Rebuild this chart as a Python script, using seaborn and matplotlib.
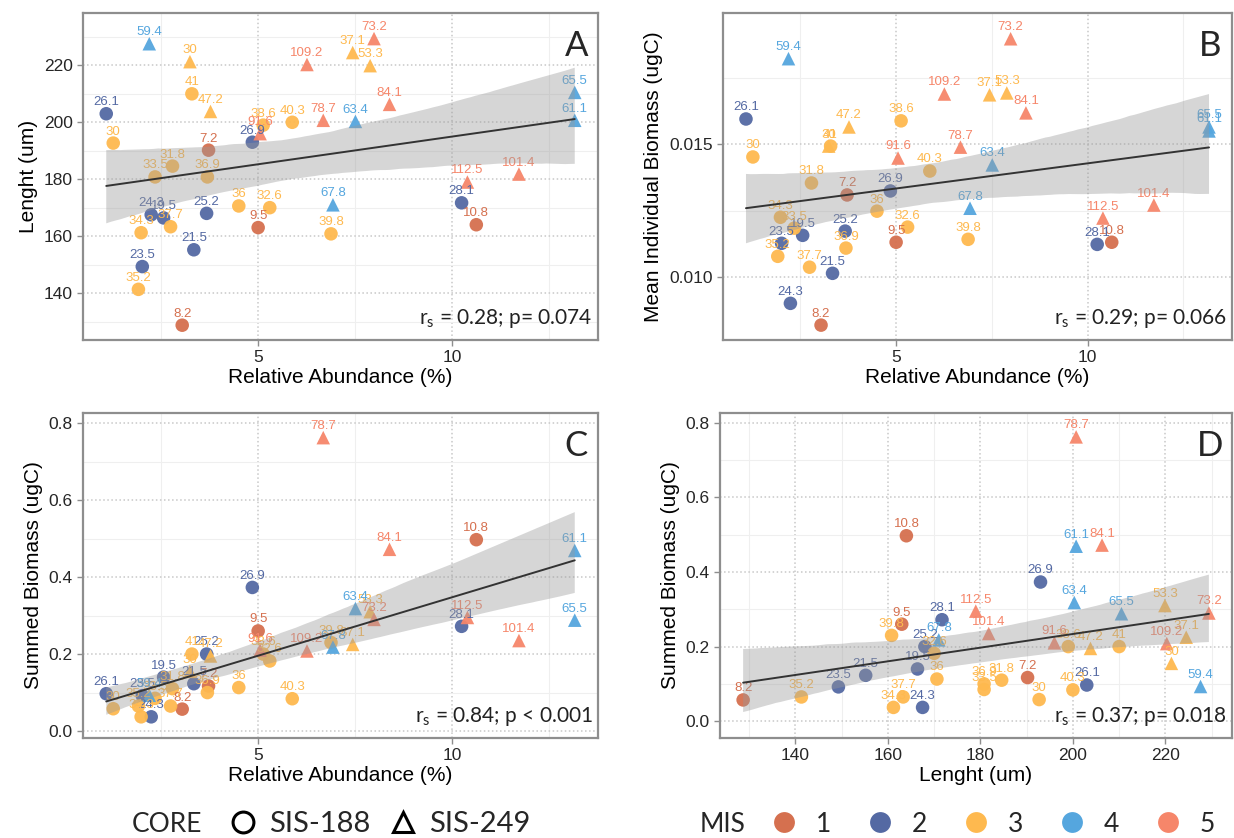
import numpy as np
import pandas as pd
import matplotlib
matplotlib.use("Agg")
import matplotlib.pyplot as plt
import seaborn as sns
from matplotlib.lines import Line2D
from matplotlib.ticker import MultipleLocator, FormatStrFormatter

# sample labels (age), core and MIS stage
labels = ['7.2', '8.2', '9.5', '10.8', '19.5', '21.5', '23.5', '24.3', '25.2', '26.1',
          '26.9', '28.1', '30', '31.8', '32.6', '33.5', '34.3', '35.2', '36', '36.9',
          '37.7', '38.6', '39.8', '40.3', '41',
          '30', '37.1', '47.2', '53.3', '59.4', '61.1', '63.4', '65.5', '67.8', '73.2',
          '78.7', '84.1', '91.6', '101.4', '109.2', '112.5']
core = ['SIS-188'] * 25 + ['SIS-249'] * 16
mis = ['1', '1', '1', '1', '2', '2', '2', '2', '2', '2',
       '2', '2', '3', '3', '3', '3', '3', '3', '3', '3',
       '3', '3', '3', '3', '3',
       '3', '3', '3', '3', '4', '4', '4', '4', '4', '5',
       '5', '5', '5', '5', '5', '5']

rel_abund = [3.72, 3.04, 5.0, 10.63, 2.56, 3.34, 2.01, 2.24, 3.67, 1.08,
             4.85, 10.25, 1.26, 2.79, 5.3, 2.34, 1.98, 1.91, 4.5, 3.69,
             2.74, 5.13, 6.88, 5.88, 3.29,
             3.24, 7.44, 3.77, 7.89, 2.19, 13.17, 7.51, 13.17, 6.93, 7.99,
             6.68, 8.39, 5.05, 11.73, 6.26, 10.4]
length = [190.2, 128.7, 163, 164, 166.4, 155.2, 149.3, 167.5, 168, 203,
          193, 171.7, 192.7, 184.6, 170, 180.8, 161.2, 141.3, 170.6, 180.8,
          163.3, 199, 160.8, 200, 210,
          221.3, 224.5, 203.8, 219.9, 227.6, 200.7, 200.3, 210.5, 171, 229.4,
          200.7, 206.3, 196, 181.8, 220.3, 179]
mean_biomass = [0.0131, 0.0082, 0.01132, 0.01132, 0.01158, 0.01015, 0.01128, 0.00902, 0.01174, 0.01596,
                0.01325, 0.01124, 0.01453, 0.01355, 0.01189, 0.01185, 0.01226, 0.01079, 0.01249, 0.0111,
                0.01038, 0.01589, 0.01143, 0.0140, 0.01494,
                0.01494, 0.01687, 0.01566, 0.01694, 0.01823, 0.01551, 0.01423, 0.01566, 0.0126, 0.01898,
                0.0149, 0.01619, 0.01449, 0.01272, 0.0169, 0.01223]
summed_biomass = [0.117, 0.057, 0.26, 0.497, 0.14, 0.123, 0.092, 0.037, 0.2, 0.097,
                  0.373, 0.272, 0.058, 0.11, 0.182, 0.085, 0.037, 0.065, 0.113, 0.1,
                  0.065, 0.2, 0.23, 0.084, 0.2,
                  0.155, 0.225, 0.195, 0.31, 0.093, 0.469, 0.318, 0.288, 0.218, 0.29,
                  0.762, 0.472, 0.21, 0.235, 0.208, 0.295]

stats = ['0.28; p= 0.074', '0.29; p= 0.066', '0.84; p < 0.001', '0.37; p= 0.018']

df = pd.DataFrame({'Label': labels, 'Core': core, 'MIS': mis, 'RA': rel_abund,
                   'Length': length, 'MeanBiomass': mean_biomass, 'SummedBiomass': summed_biomass})

mis_colors = {'1': '#D5704F', '2': '#5469A3', '3': '#FEB94F', '4': '#55A6DE', '5': '#F6866A'}
core_markers = {'SIS-188': 'o', 'SIS-249': '^'}

sns.set_style("white")
plt.rcParams['font.family'] = ['Liberation Sans', 'DejaVu Sans']
plt.rcParams['mathtext.default'] = 'regular'

fig = plt.figure(figsize=(12.34, 8.38), dpi=100)
W, H = 1234, 838


def box(l, t, r, b):
    return [l / W, 1 - b / H, (r - l) / W, (b - t) / H]


axA = fig.add_axes(box(83, 13, 598, 340))
axB = fig.add_axes(box(723, 13, 1232, 340))
axC = fig.add_axes(box(83, 413, 598, 738))
axD = fig.add_axes(box(720, 413, 1232, 738))


def panel(ax, xcol, ycol, letter, stat, xlabel, ylabel):
    sns.scatterplot(data=df, x=xcol, y=ycol, hue='MIS', style='Core', palette=mis_colors,
                    markers=core_markers, s=95, linewidth=0, alpha=0.95, legend=False,
                    ax=ax, zorder=2)
    for _, r in df.iterrows():
        ax.annotate(r['Label'], (r[xcol], r[ycol]), xytext=(0, 4), textcoords='offset points',
                    ha='center', va='bottom', fontsize=9.5, color=mis_colors[r['MIS']], zorder=2.5)
    n0 = len(ax.collections)
    sns.regplot(data=df, x=xcol, y=ycol, scatter=False, ci=95, n_boot=2000, seed=7,
                color='#999999', line_kws={'color': '#333333', 'lw': 1.4}, ax=ax)
    # grey60 ribbon with alpha 0.4, drawn over the points
    for c in ax.collections[n0:]:
        c.set_alpha(None)
        c.set_facecolor((0.6, 0.6, 0.6, 0.4))
        c.set_edgecolor('none')
        c.set_zorder(3)
    ax.lines[-1].set_zorder(4)

    ax.set_axisbelow(True)
    ax.grid(which='major', ls=':', color='#c8c8c8', lw=1.1)
    ax.grid(which='minor', ls='-', color='#efefef', lw=0.8)
    for s in ax.spines.values():
        s.set_color('#8e8e8e')
        s.set_linewidth(1.6)
    ax.tick_params(which='major', direction='out', length=4, width=1, color='#8e8e8e',
                   labelsize=12.5, labelcolor='#262626', bottom=True, left=True)
    ax.tick_params(which='minor', length=0)
    ax.set_xlabel(xlabel, fontsize=15, color='black', labelpad=2)
    ax.set_ylabel(ylabel, fontsize=15, color='black', labelpad=4)
    ax.text(0.958, 0.9, letter, transform=ax.transAxes, ha='center', va='center',
            fontsize=25, family='Lato')
    ax.text(0.99, 0.065, r'r$_{s}$ = ' + stat, transform=ax.transAxes, ha='right',
            va='center', fontsize=15, family='Lato', color='#222222', zorder=5)


panel(axA, 'RA', 'Length', 'A', stats[0], 'Relative Abundance (%)', 'Lenght (um)')
panel(axB, 'RA', 'MeanBiomass', 'B', stats[1], 'Relative Abundance (%)', 'Mean Individual Biomass (ugC)')
panel(axC, 'RA', 'SummedBiomass', 'C', stats[2], 'Relative Abundance (%)', 'Summed Biomass (ugC)')
panel(axD, 'Length', 'SummedBiomass', 'D', stats[3], 'Lenght (um)', 'Summed Biomass (ugC)')

for ax in (axA, axB, axC):
    ax.set_xlim(0.48, 13.77)
    ax.xaxis.set_major_locator(MultipleLocator(5))
    ax.xaxis.set_minor_locator(MultipleLocator(2.5))
    ax.xaxis.set_major_formatter(FormatStrFormatter('%d'))
axA.set_ylim(123.5, 238.4)
axA.yaxis.set_major_locator(MultipleLocator(20))
axA.yaxis.set_minor_locator(MultipleLocator(10))
axB.set_ylim(0.00764, 0.01995)
axB.yaxis.set_major_locator(MultipleLocator(0.005))
axB.yaxis.set_minor_locator(MultipleLocator(0.0025))
axB.yaxis.set_major_formatter(FormatStrFormatter('%.3f'))
axC.set_ylim(-0.018, 0.826)
axD.set_ylim(-0.045, 0.826)
for ax in (axC, axD):
    ax.yaxis.set_major_locator(MultipleLocator(0.2))
    ax.yaxis.set_minor_locator(MultipleLocator(0.1))
    ax.yaxis.set_major_formatter(FormatStrFormatter('%.1f'))
axD.set_xlim(123.7, 234.4)
axD.xaxis.set_major_locator(MultipleLocator(20))
axD.xaxis.set_minor_locator(MultipleLocator(10))

# legends at the bottom
title_font = {'family': 'Lato', 'size': 19}
item_font = {'family': 'Lato', 'size': 21}
yl = 1 - 824 / H
fig.text(132 / W, yl, 'CORE', ha='left', va='center', fontdict=title_font)
core_handles = [Line2D([], [], ls='none', marker=core_markers[k], mfc='none', mec='black',
                       mew=2.2, ms=15) for k in ['SIS-188', 'SIS-249']]
fig.legend(core_handles, ['SIS-188', 'SIS-249'], loc='center left',
           bbox_to_anchor=(214 / W, yl), ncol=2, frameon=False, prop=item_font,
           handletextpad=0.3, columnspacing=0.5, handlelength=1.2, borderaxespad=0)

fig.text(700 / W, yl, 'MIS', ha='left', va='center', fontdict=title_font)
mis_handles = [Line2D([], [], ls='none', marker='o', mfc=mis_colors[k], mec='none', ms=15)
               for k in ['1', '2', '3', '4', '5']]
fig.legend(mis_handles, ['1', '2', '3', '4', '5'], loc='center left',
           bbox_to_anchor=(758 / W, yl), ncol=5, frameon=False, prop=title_font,
           handletextpad=0.6, columnspacing=1.25, handlelength=1.2, borderaxespad=0)

fig.savefig('out.png', dpi=100)
